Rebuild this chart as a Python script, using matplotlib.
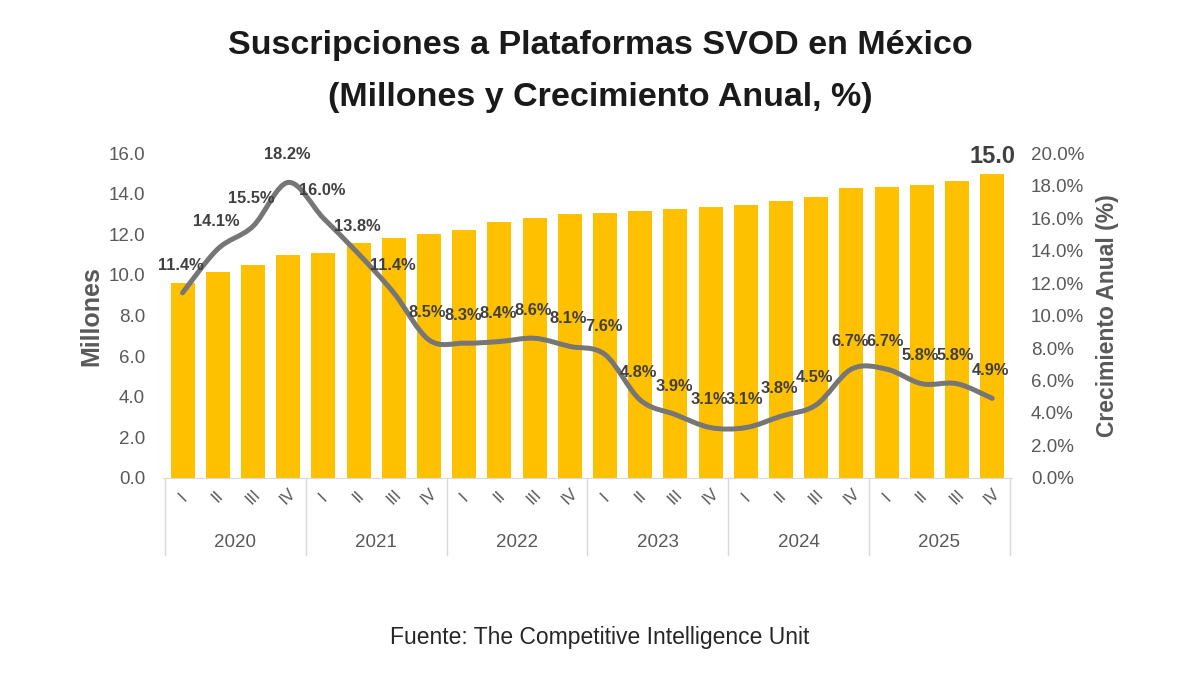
import matplotlib.pyplot as plt
import numpy as np
from matplotlib.path import Path
from matplotlib.patches import PathPatch
from matplotlib.ticker import FuncFormatter
import matplotlib.transforms as mtrans

plt.rcParams['font.family'] = ['Liberation Sans', 'DejaVu Sans']

# data
years = ['2020', '2021', '2022', '2023', '2024', '2025']
quarters = ['I', 'II', 'III', 'IV']
subs = [9.6, 10.15, 10.5, 11.0,
        11.1, 11.6, 11.8, 12.0,
        12.2, 12.6, 12.8, 13.0,
        13.05, 13.15, 13.25, 13.35,
        13.45, 13.65, 13.85, 14.3,
        14.35, 14.45, 14.65, 15.0]
growth = [11.4, 14.1, 15.5, 18.2,
          16.0, 13.8, 11.4, 8.5,
          8.3, 8.4, 8.6, 8.1,
          7.6, 4.8, 3.9, 3.1,
          3.1, 3.8, 4.5, 6.7,
          6.7, 5.8, 5.8, 4.9]

gold = '#FFC000'
line_col = '#767676'
txt_gray = '#595959'
lbl_dark = '#404040'

fig = plt.figure(figsize=(12, 6.75), dpi=100)
ax = fig.add_axes([0.136, 0.292, 0.707, 0.481])
ax2 = ax.twinx()

x = np.arange(len(subs))
ax.bar(x, subs, width=0.68, color=gold, zorder=2)
ax.set_ylim(0, 16)
ax.set_xlim(-0.55, 23.55)
ax.set_yticks(np.arange(0, 17, 2))
ax.yaxis.set_major_formatter(FuncFormatter(lambda v, p: '%.1f' % v))
ax.tick_params(axis='y', length=0, colors=txt_gray, labelsize=13.5, pad=13)
ax.set_xticks([])
for s in ['top', 'left', 'right']:
    ax.spines[s].set_visible(False)
ax.spines['bottom'].set_color('#d9d9d9')
ax.set_ylabel('Millones', fontsize=18, fontweight='bold', color=txt_gray, labelpad=4)

# last bar value
ax.annotate('%.1f' % subs[-1], (x[-1], subs[-1]), xytext=(0, 4), textcoords='offset points',
            ha='center', va='bottom', fontsize=17, fontweight='bold', color=lbl_dark)

# smoothed growth line (bezier through the data points)
pts = np.column_stack([x, growth]).astype(float)
verts = [pts[0]]
codes = [Path.MOVETO]
n = len(pts)
for i in range(n - 1):
    p0 = pts[i - 1] if i > 0 else pts[i]
    p1 = pts[i]
    p2 = pts[i + 1]
    p3 = pts[i + 2] if i + 2 < n else pts[i + 1]
    c1 = p1 + (p2 - p0) / 6.0
    c2 = p2 - (p3 - p1) / 6.0
    verts += [c1, c2, p2]
    codes += [Path.CURVE4] * 3
ax2.add_patch(PathPatch(Path(verts, codes), facecolor='none', edgecolor=line_col,
                        lw=3.6, capstyle='round', joinstyle='round', zorder=3))
ax2.set_ylim(0, 20)
ax2.set_yticks(np.arange(0, 21, 2))
ax2.yaxis.set_major_formatter(FuncFormatter(lambda v, p: '%.1f%%' % v))
ax2.tick_params(axis='y', length=0, colors=txt_gray, labelsize=13.5, pad=14)
for s in ['top', 'left', 'right', 'bottom']:
    ax2.spines[s].set_visible(False)
ax2.set_ylabel('Crecimiento Anual (%)', fontsize=16.5, fontweight='bold', color=txt_gray, labelpad=8)

for xi, g in zip(x, growth):
    ax2.annotate('%.1f%%' % g, (xi, g), xytext=(-1, 20), textcoords='offset points',
                 ha='center', va='center', fontsize=11.8, fontweight='bold', color=lbl_dark)

# two-level category axis
tr = mtrans.blended_transform_factory(ax.transData, ax.transAxes)
for i, q in enumerate(quarters * len(years)):
    ax.text(i, -0.058, q, transform=tr, rotation=45, ha='center', va='center',
            fontsize=12, color=txt_gray)
for k, yr in enumerate(years):
    ax.text(4 * k + 1.5, -0.2, yr, transform=tr, ha='center', va='center',
            fontsize=13.5, color=txt_gray)
for b in np.arange(-0.5, 24, 4):
    ax.plot([b, b], [0, -0.236], transform=tr, color='#d9d9d9', lw=1, clip_on=False)

fig.text(0.5, 0.933, 'Suscripciones a Plataformas SVOD en México', ha='center', va='center',
         fontsize=24.5, fontweight='bold', color='#1a1a1a')
fig.text(0.5, 0.856, '(Millones y Crecimiento Anual, %)', ha='center', va='center',
         fontsize=24.5, fontweight='bold', color='#1a1a1a')
fig.text(0.5, 0.056, 'Fuente: The Competitive Intelligence Unit', ha='center', va='center',
         fontsize=16.5, color='#262626')

fig.savefig('out.png', dpi=100, facecolor='white')
